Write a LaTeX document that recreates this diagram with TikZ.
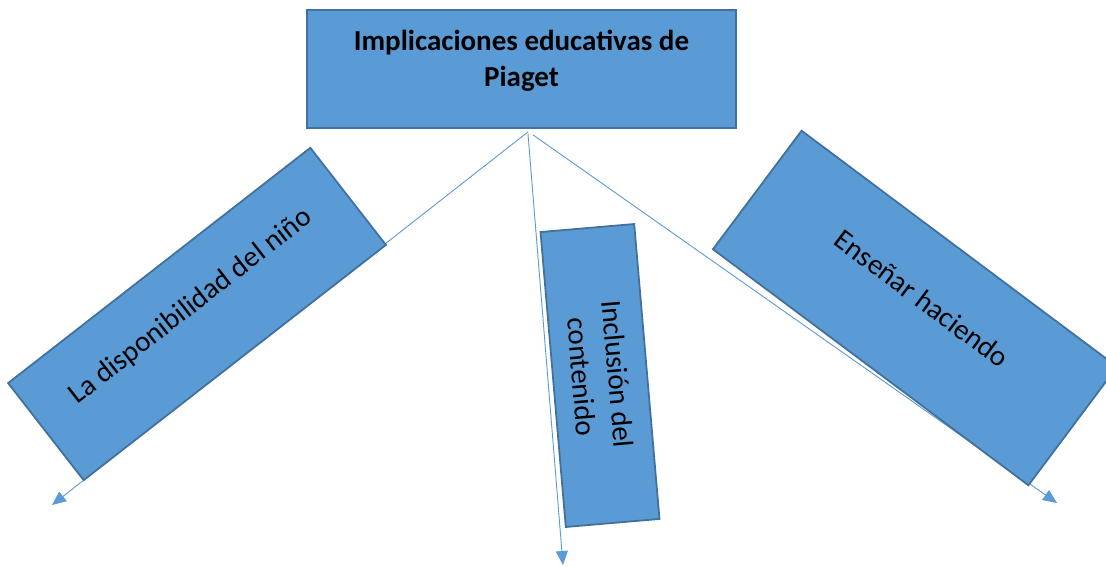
\documentclass[tikz,border=0pt]{standalone}
\usepackage{fontspec}
\setmainfont{Carlito}
\usetikzlibrary{arrows.meta,backgrounds}
\definecolor{boxfill}{HTML}{5B9BD5}
\definecolor{boxline}{HTML}{41719C}
\definecolor{arrowcol}{HTML}{5B9BD5}
\tikzset{
  bluebox/.style={draw=boxline, fill=boxfill, line width=1.8pt, inner sep=0pt,
    align=center, font=\fontsize{29}{35}\selectfont, text=black},
  linkarrow/.style={draw=arrowcol, line width=0.9pt,
    -{Triangle[length=14pt,width=12pt]}}
}
\begin{document}
\begin{tikzpicture}[x=1pt,y=-1pt]
\useasboundingbox (0,0) rectangle (1106,567);
\node[bluebox, minimum width=429pt, minimum height=118pt, text depth=22pt,
      font=\fontsize{29}{36}\selectfont\bfseries] (top) at (521.5,69)
  {Implicaciones educativas de\\Piaget};
\node[bluebox, minimum width=383pt, minimum height=123pt, rotate=37.9,
      text depth=24pt] (left) at (197,314) {La disponibilidad del niño};
\node[bluebox, minimum width=296pt, minimum height=94pt, rotate=-85.1,
      font=\fontsize{29}{36}\selectfont]
  (mid) at (600,375.5) {Inclusión del\\contenido};
\node[bluebox, minimum width=394pt, minimum height=148pt, rotate=-36.8,
      text depth=24pt] (right) at (915,308) {Enseñar haciendo};
\coordinate (tipL) at (52,505);
\coordinate (tipM) at (563,565);
\coordinate (tipR) at (1057,503);
\begin{scope}[on background layer]
\fill[white] (0,0) rectangle (1106,567);
\draw[linkarrow] ([xshift=6.5pt,yshift=-3pt]top.south) -- (tipL);
\draw[linkarrow] ([xshift=6.5pt,yshift=-5pt]top.south) -- (tipM);
\draw[linkarrow] ([xshift=11.5pt,yshift=-6pt]top.south) -- (tipR);
\end{scope}
\end{tikzpicture}
\end{document}
